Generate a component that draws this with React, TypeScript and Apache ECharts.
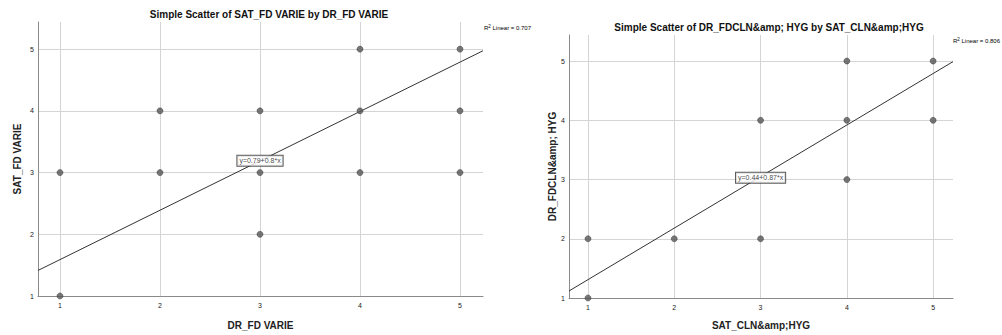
import React, { useEffect, useRef } from "react";
import * as echarts from "echarts";

const ticks = [1, 2, 3, 4, 5];

const leftX = [1, 1, 2, 2, 3, 3, 3, 4, 4, 4, 5, 5, 5];
const leftY = [1, 3, 3, 4, 2, 3, 4, 3, 4, 5, 3, 4, 5];
const leftIntercept = 0.79;
const leftSlope = 0.8;
const leftTitle = "Simple Scatter of SAT_FD VARIE by DR_FD VARIE";
const leftXName = "DR_FD VARIE";
const leftYName = "SAT_FD VARIE";
const leftR2 = "0.707";
const leftEq = "y=0.79+0.8*x";

const rightX = [1, 1, 2, 3, 3, 4, 4, 4, 5, 5];
const rightY = [1, 2, 2, 2, 4, 3, 4, 5, 4, 5];
const rightIntercept = 0.44;
const rightSlope = 0.87;
const rightTitle = "Simple Scatter of DR_FDCLN&amp; HYG by SAT_CLN&amp;HYG";
const rightXName = "SAT_CLN&amp;HYG";
const rightYName = "DR_FDCLN&amp; HYG";
const rightR2 = "0.806";
const rightEq = "y=0.44+0.87*x";

const X_MIN = 0.78;
const X_MAX = 5.23;
const Y_MIN = 1;
const Y_MAX = 5.44;

const FONT = "'Liberation Sans', Arial, sans-serif";

export default function App() {
  const ref = useRef<HTMLDivElement>(null);
  useEffect(() => {
    document.body.style.margin = "0";
    const chart = echarts.init(ref.current!, null, { renderer: "svg" });

    const makeX = (gridIndex: number, name: string, gap: number) => ({
      type: "value",
      gridIndex,
      min: X_MIN,
      max: X_MAX,
      name,
      nameLocation: "middle",
      nameGap: gap,
      nameTextStyle: { fontFamily: FONT, fontSize: 10, fontWeight: "bold", color: "#222" },
      axisLine: { show: true, lineStyle: { color: "#8a8a8a", width: 1 } },
      axisTick: { show: false, customValues: ticks },
      axisLabel: { customValues: ticks, fontFamily: FONT, fontSize: 7, color: "#222", margin: 6 },
      splitLine: { show: true, lineStyle: { color: "#d4d4d4", width: 1 } },
    });
    const makeY = (gridIndex: number, name: string, gap: number) => ({
      type: "value",
      gridIndex,
      min: Y_MIN,
      max: Y_MAX,
      name,
      nameLocation: "middle",
      nameGap: gap,
      nameTextStyle: { fontFamily: FONT, fontSize: 10, fontWeight: "bold", color: "#222" },
      axisLine: { show: true, lineStyle: { color: "#8a8a8a", width: 1 } },
      axisTick: { show: false, customValues: ticks },
      axisLabel: { customValues: ticks, fontFamily: FONT, fontSize: 7, color: "#222", margin: 4 },
      splitLine: { show: true, lineStyle: { color: "#d4d4d4", width: 1 } },
    });

    const pointSeries = (i: number, xs: number[], ys: number[]) => ({
      type: "scatter",
      xAxisIndex: i,
      yAxisIndex: i,
      symbolSize: 6,
      itemStyle: { color: "#555", borderColor: "#333", borderWidth: 0.6 },
      data: xs.map((x, k) => [x, ys[k]]),
      z: 3,
    });
    const fitSeries = (i: number, a: number, b: number) => ({
      type: "line",
      xAxisIndex: i,
      yAxisIndex: i,
      symbol: "none",
      lineStyle: { color: "#333", width: 1 },
      data: [
        [X_MIN, a + b * X_MIN],
        [X_MAX, a + b * X_MAX],
      ],
      z: 2,
    });
    const eqSeries = (i: number, text: string, pos: number[]) => ({
      type: "scatter",
      xAxisIndex: i,
      yAxisIndex: i,
      symbolSize: 0,
      data: [pos],
      label: {
        show: true,
        position: "inside",
        formatter: text,
        fontFamily: FONT,
        fontSize: 7,
        color: "#111",
        backgroundColor: "#fff",
        borderColor: "#333",
        borderWidth: 1,
        padding: [2, 2, 1, 2],
      },
      z: 5,
    });

    const r2Rich = {
      a: { fontFamily: FONT, fontSize: 6, color: "#333" },
      s: { fontFamily: FONT, fontSize: 4.5, color: "#333", verticalAlign: "top", padding: [0, 0, 3, 0] },
    };

    chart.setOption({
      animation: false,
      grid: [
        { left: 38, top: 22, width: 445, height: 275, containLabel: false },
        { left: 569, top: 35, width: 384, height: 263, containLabel: false },
      ],
      xAxis: [makeX(0, leftXName, 24), makeX(1, rightXName, 22)],
      yAxis: [makeY(0, leftYName, 16), makeY(1, rightYName, 12)],
      series: [
        fitSeries(0, leftIntercept, leftSlope),
        pointSeries(0, leftX, leftY),
        eqSeries(0, leftEq, [3, 3.19]),
        fitSeries(1, rightIntercept, rightSlope),
        pointSeries(1, rightX, rightY),
        eqSeries(1, rightEq, [3, 3.03]),
      ],
      graphic: [
        {
          type: "text",
          x: 269,
          y: 14,
          style: { text: leftTitle, font: `bold 10px ${FONT}`, fill: "#111", textAlign: "center", textVerticalAlign: "middle" },
        },
        {
          type: "text",
          x: 769,
          y: 27,
          style: { text: rightTitle, font: `bold 10px ${FONT}`, fill: "#111", textAlign: "center", textVerticalAlign: "middle" },
        },
        {
          type: "text",
          x: 484,
          y: 28,
          style: { text: `{a|R}{s|2}{a| Linear = ${leftR2}}`, rich: r2Rich, textVerticalAlign: "middle" },
        },
        {
          type: "text",
          x: 953,
          y: 41,
          style: { text: `{a|R}{s|2}{a| Linear = ${rightR2}}`, rich: r2Rich, textVerticalAlign: "middle" },
        },
      ],
    });
    return () => chart.dispose();
  }, []);
  return <div ref={ref} style={{ width: 1002, height: 335 }} />;
}
